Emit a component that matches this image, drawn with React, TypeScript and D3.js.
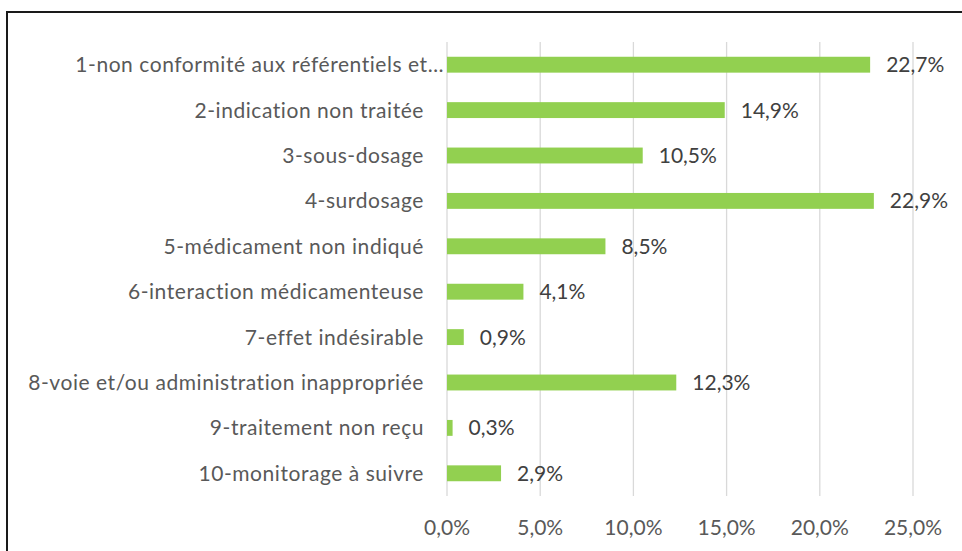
import React, { useEffect, useRef } from 'react';
import * as d3 from 'd3';

const categories = [
  '1-non conformité aux référentiels et…',
  '2-indication non traitée',
  '3-sous-dosage',
  '4-surdosage',
  '5-médicament non indiqué',
  '6-interaction médicamenteuse',
  '7-effet indésirable',
  '8-voie et/ou administration inappropriée',
  '9-traitement non reçu',
  '10-monitorage à suivre'
];

const values = [22.7, 14.9, 10.5, 22.9, 8.5, 4.1, 0.9, 12.3, 0.3, 2.9];

const xTicks = [0, 5, 10, 15, 20, 25];

const fmt = (v: number) => v.toFixed(1).replace('.', ',') + '%';

const App: React.FC = () => {
  const svgRef = useRef<SVGSVGElement>(null);

  useEffect(() => {
    if (!svgRef.current) return;
    const width = 962;
    const height = 551;
    const svg = d3.select(svgRef.current);
    svg.selectAll('*').remove();

    const font = 'Lato, "Open Sans", sans-serif';
    const fontSize = 21;
    const textColor = '#595959';

    // cadre
    svg.append('rect')
      .attr('x', 7)
      .attr('y', 12)
      .attr('width', 1000)
      .attr('height', 600)
      .attr('fill', '#fff')
      .attr('stroke', '#1a1a1a')
      .attr('stroke-width', 2);

    const x = d3.scaleLinear().domain([0, 25]).range([447, 913]);
    const y = d3.scaleBand<string>().domain(categories).range([42, 496]).paddingInner(0.65).paddingOuter(0.325);

    // grille
    svg.append('g')
      .selectAll('line')
      .data(xTicks)
      .enter()
      .append('line')
      .attr('x1', d => x(d))
      .attr('x2', d => x(d))
      .attr('y1', 42)
      .attr('y2', 496)
      .attr('stroke', '#d9d9d9')
      .attr('stroke-width', 1.3);

    // barres
    svg.append('g')
      .selectAll('rect')
      .data(values)
      .enter()
      .append('rect')
      .attr('x', x(0))
      .attr('y', (d, i) => y(categories[i])!)
      .attr('width', d => x(d) - x(0))
      .attr('height', y.bandwidth())
      .attr('fill', '#92d050');

    // étiquettes de valeurs
    svg.append('g')
      .selectAll('text')
      .data(values)
      .enter()
      .append('text')
      .attr('x', d => x(d) + 16)
      .attr('y', (d, i) => y(categories[i])! + y.bandwidth() / 2)
      .attr('dy', '0.36em')
      .attr('font-family', font)
      .attr('font-size', fontSize)
      .attr('fill', '#404040')
      .text(d => fmt(d));

    // catégories
    svg.append('g')
      .selectAll('text')
      .data(categories)
      .enter()
      .append('text')
      .attr('x', (d, i) => (i === 0 ? 444 : 424))
      .attr('y', d => y(d)! + y.bandwidth() / 2)
      .attr('dy', '0.36em')
      .attr('text-anchor', 'end')
      .attr('font-family', font)
      .attr('font-size', fontSize)
      .attr('letter-spacing', 0.55)
      .style('font-variant-ligatures', 'none')
      .attr('fill', textColor)
      .text(d => d);

    // axe x
    svg.append('g')
      .selectAll('text')
      .data(xTicks)
      .enter()
      .append('text')
      .attr('x', d => x(d))
      .attr('y', 527)
      .attr('dy', '0.36em')
      .attr('text-anchor', 'middle')
      .attr('font-family', font)
      .attr('font-size', fontSize)
      .attr('fill', textColor)
      .text(d => fmt(d));

    svg.attr('viewBox', `0 0 ${width} ${height}`);
  }, []);

  return (
    <svg
      ref={svgRef}
      width={962}
      height={551}
      style={{ position: 'absolute', left: 0, top: 0, display: 'block', background: '#fff' }}
    />
  );
};

export default App;
